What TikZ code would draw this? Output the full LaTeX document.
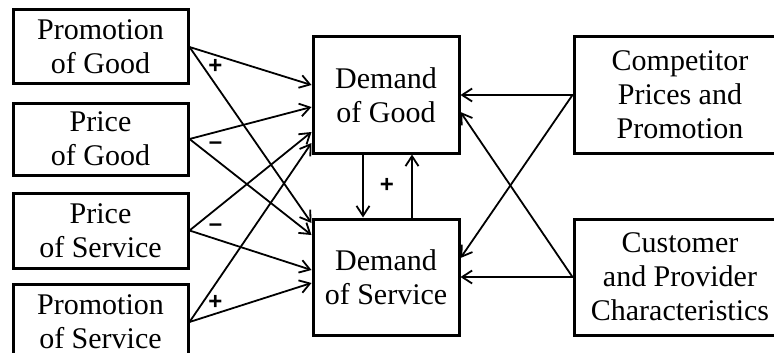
\documentclass[tikz,border=0pt]{standalone}
\usepackage{fontspec}
\setmainfont{Liberation Serif}
\newfontfamily\signfont{Liberation Sans}
\usetikzlibrary{arrows.meta}
\begin{document}
\begin{tikzpicture}[x=1pt,y=-1pt,
  box/.style={draw,line width=3pt,align=center,inner sep=0pt,
    font=\fontsize{30}{34}\selectfont},
  lbox/.style={box,minimum width=175pt,minimum height=74pt},
  dbox/.style={box,minimum width=146pt,minimum height=116pt},
  rbox/.style={box,minimum width=212pt,minimum height=116pt},
  arr/.style={line width=1.8pt,-{Straight Barb[length=10pt,width=13pt]}},
  sign/.style={font=\signfont\bfseries\fontsize{24}{24}\selectfont,inner sep=0pt,
    text height=0.67em,text depth=0pt}]
\useasboundingbox (0,0) rectangle (774,353);
\clip (0,0) rectangle (774,353);
\fill[white] (0,0) rectangle (774,353);
\node[lbox] (pg) at (100.5,47) {Promotion\\of Good};
\node[lbox,minimum height=72pt] (prg) at (100.5,139) {Price\\of Good};
\node[lbox,minimum height=75pt] (ps) at (100.5,230.5) {Price\\of Service};
\node[lbox,minimum height=75pt] (pms) at (100.5,322) {Promotion\\of Service};
\node[dbox] (dg) at (386,95) {Demand\\of Good};
\node[dbox] (ds) at (386,277) {Demand\\of Service};
\node[rbox] (comp) at (680,95) {Competitor\\Prices and\\Promotion};
\node[rbox] (cust) at (680,277) {Customer\\and Provider\\Characteristics};
% left arrows
\draw[arr] (pg.east) -- ([yshift=10pt]dg.west);
\draw[arr] (pg.east) -- ([yshift=54pt]ds.west);
\draw[arr] (prg.east) -- ([yshift=-12pt]dg.west);
\draw[arr] (prg.east) -- ([yshift=42pt]ds.west);
\draw[arr] (ps.east) -- ([yshift=-37pt]dg.west);
\draw[arr] (ps.east) -- ([yshift=7pt]ds.west);
\draw[arr] (pms.east) -- ([yshift=-48pt]dg.west);
\draw[arr] (pms.east) -- ([yshift=-6pt]ds.west);
% vertical
\draw[arr] ([xshift=-23pt]dg.south) -- ([xshift=-23pt]ds.north);
\draw[arr] ([xshift=26pt]ds.north) -- ([xshift=26pt]dg.south);
% right arrows
\draw[arr] (comp.west) -- (comp.west -| dg.east);
\draw[arr] (comp.west) -- ([yshift=19pt]ds.east);
\draw[arr] (cust.west) -- (cust.west -| ds.east);
\draw[arr] (cust.west) -- ([yshift=-17pt]dg.east);
% signs
\node[sign] (s1) at (215.5,70) {+};
\node[sign] (s2) at (215.5,146) {–};
\node[sign] (s3) at (215.5,228) {–};
\node[sign] (s4) at (215.5,306) {+};
\node[sign] (s5) at (387,189) {+};
\end{tikzpicture}
\end{document}
